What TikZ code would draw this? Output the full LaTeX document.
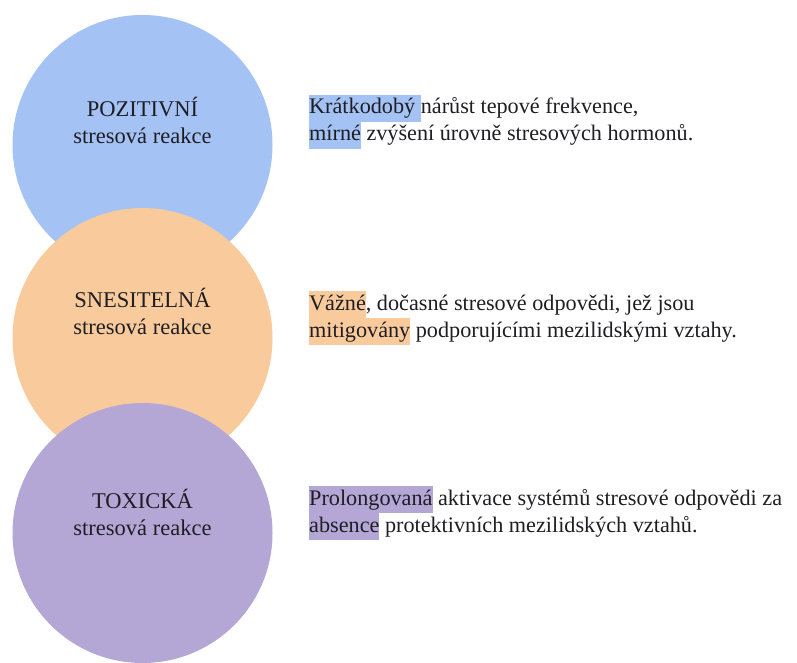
\documentclass[tikz,border=0pt]{standalone}
\usepackage{fontspec}
\setmainfont{Liberation Serif}
\definecolor{cblue}{HTML}{A4C2F4}
\definecolor{corange}{HTML}{F9CB9C}
\definecolor{cpurple}{HTML}{B4A7D6}
\definecolor{txt}{HTML}{1E1E24}
\newcommand{\hlt}[2]{{\setlength{\fboxsep}{0pt}\colorbox{#1}{\strut #2}}}
\begin{document}
\begin{tikzpicture}[x=1bp,y=-1bp,
  circ/.style={circle, minimum size=260bp, inner sep=0pt, draw=none},
  ctext/.style={align=center, anchor=base, inner sep=0pt, text=txt, font=\fontsize{22.5bp}{27bp}\selectfont},
  rtext/.style={align=left, anchor=base west, inner sep=0pt, text=txt, font=\fontsize{22.2bp}{27bp}\selectfont}]
\useasboundingbox (0,0) rectangle (797,663);
\fill[white] (0,0) rectangle (797,663);
\node[circ, fill=cblue] (c1) at (142.5,145) {};
\node[circ, fill=corange] (c2) at (142.5,338) {};
\node[circ, fill=cpurple] (c3) at (142.5,533) {};
\node[ctext] (l1) at (142.5,144) {POZITIVNÍ\\stresová reakce};
\node[ctext] (l2) at (142.5,334) {SNESITELNÁ\\stresová reakce};
\node[ctext] (l3) at (142.5,535) {TOXICKÁ\\stresová reakce};
\node[rtext] (r1) at (309,141) {\hlt{cblue}{Krátkodobý }nárůst tepové frekvence,\\\hlt{cblue}{mírné} zvýšení úrovně stresových hormonů.};
\node[rtext] (r2) at (309,337) {\hlt{corange}{Vážné}, dočasné stresové odpovědi, jež jsou\\\hlt{corange}{mitigovány} podporujícími mezilidskými vztahy.};
\node[rtext] (r3) at (309,532) {\hlt{cpurple}{Prolongovaná} aktivace systémů stresové odpovědi za\\\hlt{cpurple}{absence} protektivních mezilidských vztahů.};
\end{tikzpicture}
\end{document}
